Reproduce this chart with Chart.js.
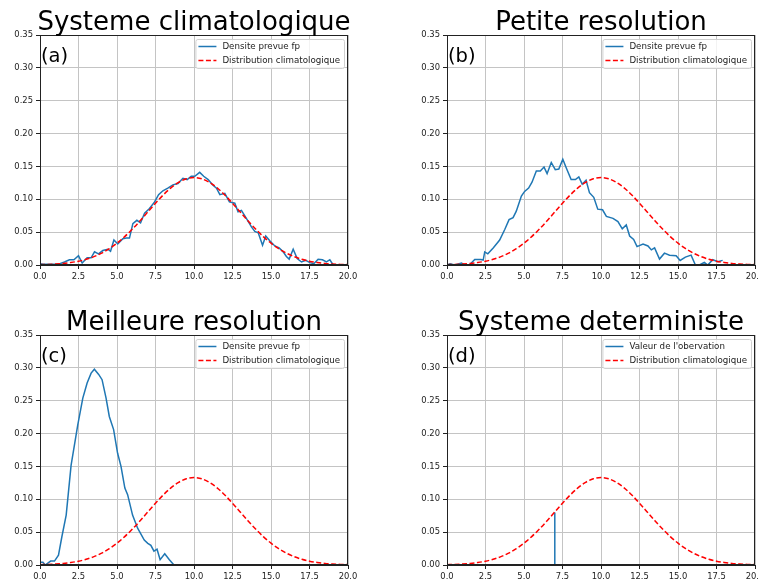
<!DOCTYPE html>
<html>
<head>
<meta charset="utf-8">
<script src="https://cdn.jsdelivr.net/npm/chart.js@4/dist/chart.umd.min.js"></script>
<style>
  html, body { margin: 0; padding: 0; background: #fff; overflow: hidden; width: 759px; height: 581px; }
  .panel { position: absolute; }
</style>
</head>
<body>
<div class="panel" style="left:0;top:0;width:380px;height:290px"><canvas id="chartA"></canvas></div>
<div class="panel" style="left:407px;top:0;width:352px;height:290px"><canvas id="chartB"></canvas></div>
<div class="panel" style="left:0;top:300px;width:380px;height:281px"><canvas id="chartC"></canvas></div>
<div class="panel" style="left:407px;top:300px;width:352px;height:281px"><canvas id="chartD"></canvas></div>
<script>
// === Data ===
const titles = ['Systeme climatologique', 'Petite resolution', 'Meilleure resolution', 'Systeme deterministe'];
const panelLabels = ['(a)', '(b)', '(c)', '(d)'];
const xTicks = [0, 2.5, 5, 7.5, 10, 12.5, 15, 17.5, 20];
const yTicks = [0, 0.05, 0.10, 0.15, 0.20, 0.25, 0.30, 0.35];

// climatological distribution (red dashed)
const xClim = [0, 0.5, 1, 1.5, 2, 2.5, 3, 3.5, 4, 4.5, 5, 5.5, 6, 6.5, 7, 7.5, 8, 8.5, 9, 9.5, 10,
  10.5, 11, 11.5, 12, 12.5, 13, 13.5, 14, 14.5, 15, 15.5, 16, 16.5, 17, 17.5, 18, 18.5, 19, 19.5, 20];
const yClim = [0.0005, 0.0009, 0.0015, 0.0024, 0.0038, 0.0058, 0.0087, 0.0127, 0.0180, 0.0248, 0.0332,
  0.0432, 0.0547, 0.0673, 0.0807, 0.0940, 0.1065, 0.1174, 0.1258, 0.1312, 0.1330,
  0.1312, 0.1258, 0.1174, 0.1065, 0.0940, 0.0807, 0.0673, 0.0547, 0.0432, 0.0332,
  0.0248, 0.0180, 0.0127, 0.0087, 0.0058, 0.0038, 0.0024, 0.0015, 0.0009, 0.0005];

// (a) forecast density, climatological system
const xA = [0, 0.2, 0.6, 1.16, 1.59, 1.91, 2.2, 2.5, 2.74, 3.06, 3.32, 3.54, 3.8, 4.08, 4.4, 4.58, 4.8,
  5.05, 5.38, 5.6, 5.81, 6.03, 6.29, 6.53, 6.79, 7.11, 7.44, 7.7, 7.98, 8.3, 8.63, 8.96, 9.28, 9.56,
  9.82, 10.05, 10.37, 10.63, 10.92, 11.2, 11.46, 11.68, 12.0, 12.3, 12.65, 12.86, 13.08, 13.4, 13.73,
  13.95, 14.17, 14.45, 14.66, 14.92, 15.25, 15.53, 15.79, 16.0, 16.18, 16.44, 16.7, 16.98, 17.26,
  17.52, 17.78, 18.06, 18.34, 18.6, 18.82, 19.04];
const yA = [0.002, 0.001, 0.001, 0.001, 0.0046, 0.008, 0.008, 0.014, 0.003, 0.011, 0.011, 0.020, 0.017,
  0.022, 0.024, 0.021, 0.038, 0.032, 0.040, 0.041, 0.041, 0.063, 0.068, 0.064, 0.079, 0.086, 0.096,
  0.107, 0.113, 0.117, 0.122, 0.124, 0.132, 0.130, 0.135, 0.135, 0.141, 0.135, 0.130, 0.122, 0.117,
  0.107, 0.109, 0.096, 0.094, 0.081, 0.083, 0.071, 0.058, 0.051, 0.049, 0.030, 0.044, 0.037, 0.029,
  0.026, 0.020, 0.013, 0.009, 0.024, 0.0097, 0.0046, 0.007, 0.0036, 0.002, 0.0087, 0.008, 0.0046,
  0.008, 0];

// (b) forecast density, low resolution
const xB = [0, 0.2, 0.5, 0.94, 1.15, 1.45, 1.8, 2.2, 2.35, 2.45, 2.65, 3.0, 3.42, 3.75, 4.03, 4.29, 4.5,
  4.83, 5.04, 5.3, 5.52, 5.8, 6.06, 6.3, 6.5, 6.77, 7.03, 7.26, 7.52, 7.74, 8.06, 8.34, 8.56, 8.78,
  9.03, 9.25, 9.53, 9.79, 10.1, 10.35, 10.78, 11.1, 11.38, 11.64, 11.86, 12.12, 12.34, 12.73, 13.05,
  13.27, 13.48, 13.8, 14.12, 14.45, 14.88, 15.14, 15.48, 15.85, 16.13, 16.39, 16.71, 16.93, 17.26,
  17.58, 17.9];
const yB = [0, 0.002, 0, 0.003, 0, 0, 0.0085, 0.0085, 0.0075, 0.02, 0.017, 0.026, 0.038, 0.054, 0.069,
  0.072, 0.082, 0.105, 0.112, 0.117, 0.126, 0.143, 0.143, 0.149, 0.139, 0.156, 0.145, 0.146, 0.161,
  0.148, 0.13, 0.13, 0.134, 0.123, 0.129, 0.11, 0.103, 0.085, 0.084, 0.074, 0.071, 0.066, 0.055,
  0.061, 0.044, 0.039, 0.028, 0.032, 0.029, 0.023, 0.026, 0.009, 0.018, 0.015, 0.014, 0.007, 0.012,
  0.015, 0, 0, 0.004, 0, 0.008, 0.005, 0.007];

// (c) forecast density, better resolution
const xC = [0, 0.19, 0.34, 0.69, 0.94, 1.2, 1.42, 1.7, 2.02, 2.45, 2.78, 3.06, 3.32, 3.53, 3.81, 4.03,
  4.29, 4.5, 4.78, 5.04, 5.26, 5.51, 5.69, 6.01, 6.34, 6.77, 7.0, 7.2, 7.4, 7.6, 7.8, 8.1, 8.4, 8.7];
const yC = [0.004, 0.004, 0, 0.006, 0.006, 0.015, 0.043, 0.076, 0.152, 0.213, 0.254, 0.277, 0.292,
  0.298, 0.29, 0.282, 0.254, 0.226, 0.206, 0.17, 0.15, 0.117, 0.107, 0.076, 0.056, 0.038, 0.033,
  0.03, 0.021, 0.024, 0.008, 0.017, 0.008, 0];

// (d) observed value (vertical stick)
const xObs = [7, 7];
const yObs = [0, 0.08];

const blueNames = ['Densite prevue fp', 'Densite prevue fp', 'Densite prevue fp', "Valeur de l'obervation"];
const climName = 'Distribution climatologique';

// === Helpers ===
const BLUE = '#1f77b4';
const RED = '#ff0000';
const FONT = '"DejaVu Sans", sans-serif';
const pts = (xs, ys) => xs.map((x, i) => ({ x: x, y: ys[i] }));

// frame, title, panel letter and legend drawn on the canvas
function makeDeco(idx) {
  return {
    id: 'deco' + idx,
    afterDraw(chart) {
      const ctx = chart.ctx;
      const a = chart.chartArea;
      ctx.save();
      // spines on all four sides
      ctx.strokeStyle = '#222';
      ctx.lineWidth = 1;
      ctx.strokeRect(Math.round(a.left) + 0.5, Math.round(a.top) + 0.5,
        Math.round(a.right - a.left) - 1, Math.round(a.bottom - a.top) - 1);

      // title
      ctx.fillStyle = '#000';
      ctx.font = '26px ' + FONT;
      ctx.textAlign = 'center';
      ctx.textBaseline = 'alphabetic';
      ctx.fillText(titles[idx], (a.left + a.right) / 2, a.top - 5);

      // panel label
      ctx.font = '19.5px ' + FONT;
      ctx.textAlign = 'left';
      ctx.fillText(panelLabels[idx], a.left + 1, a.top + 27);

      // legend box
      ctx.font = '8.7px ' + FONT;
      const labels = [blueNames[idx], climName];
      const tw = Math.max(...labels.map(l => ctx.measureText(l).width));
      const bw = tw + 31, bh = 29;
      const bx = a.right - 4 - bw, by = a.top + 4;
      ctx.beginPath();
      ctx.roundRect(bx + 0.5, by + 0.5, bw, bh, 2);
      ctx.fillStyle = 'rgba(255,255,255,0.8)';
      ctx.fill();
      ctx.strokeStyle = '#d0d0d0';
      ctx.stroke();
      const styles = [{ c: BLUE, d: [] }, { c: RED, d: [5, 2.5] }];
      labels.forEach((l, i) => {
        const yy = by + 7.5 + i * 14;
        ctx.beginPath();
        ctx.setLineDash(styles[i].d);
        ctx.strokeStyle = styles[i].c;
        ctx.lineWidth = 1.5;
        ctx.moveTo(bx + 3, yy);
        ctx.lineTo(bx + 21, yy);
        ctx.stroke();
        ctx.setLineDash([]);
        ctx.fillStyle = '#222';
        ctx.textBaseline = 'middle';
        ctx.fillText(l, bx + 27, yy);
      });
      ctx.restore();
    }
  };
}

function makeChart(canvasId, idx, xs, ys, rightPad, xAxisHeight) {
  const el = document.getElementById(canvasId);
  const tickFont = { family: FONT, size: 8.4 };
  return new Chart(el, {
    type: 'scatter',
    data: {
      datasets: [
        {
          label: climName,
          data: pts(xClim, yClim),
          showLine: true,
          borderColor: RED,
          borderWidth: 1.5,
          borderDash: [5, 2.5],
          pointRadius: 0,
          cubicInterpolationMode: 'monotone'
        },
        {
          label: blueNames[idx],
          data: pts(xs, ys),
          showLine: true,
          borderColor: BLUE,
          borderWidth: 1.5,
          pointRadius: 0,
          tension: 0
        }
      ]
    },
    options: {
      responsive: true,
      maintainAspectRatio: false,
      animation: false,
      devicePixelRatio: 1,
      events: [],
      layout: { padding: { left: 0, top: 35, right: rightPad, bottom: 0 } },
      plugins: {
        legend: { display: false },
        tooltip: { enabled: false },
        title: { display: false }
      },
      scales: {
        x: {
          type: 'linear',
          min: 0,
          max: 20,
          afterBuildTicks: s => { s.ticks = xTicks.map(v => ({ value: v })); },
          afterFit: s => { s.height = xAxisHeight; s.paddingLeft = 0; s.paddingRight = 0; },
          ticks: {
            font: tickFont,
            color: '#222',
            padding: 3,
            maxRotation: 0,
            autoSkip: false,
            callback: v => Number(v).toFixed(1)
          },
          grid: { color: '#c4c4c4', lineWidth: 1, tickColor: '#222', tickLength: 4 },
          border: { color: '#222', width: 1 }
        },
        y: {
          type: 'linear',
          min: 0,
          max: 0.35,
          afterBuildTicks: s => { s.ticks = yTicks.map(v => ({ value: v })); },
          afterFit: s => { s.width = 40; s.paddingTop = 0; s.paddingBottom = 0; },
          ticks: {
            font: tickFont,
            color: '#222',
            padding: 3,
            autoSkip: false,
            callback: v => Number(v).toFixed(2)
          },
          grid: { color: '#c4c4c4', lineWidth: 1, tickColor: '#222', tickLength: 4 },
          border: { color: '#222', width: 1 }
        }
      }
    },
    plugins: [makeDeco(idx)]
  });
}

makeChart('chartA', 0, xA, yA, 32, 25);
makeChart('chartB', 1, xB, yB, 4, 25);
makeChart('chartC', 2, xC, yC, 32, 16);
makeChart('chartD', 3, xObs, yObs, 4, 16);
</script>
</body>
</html>
